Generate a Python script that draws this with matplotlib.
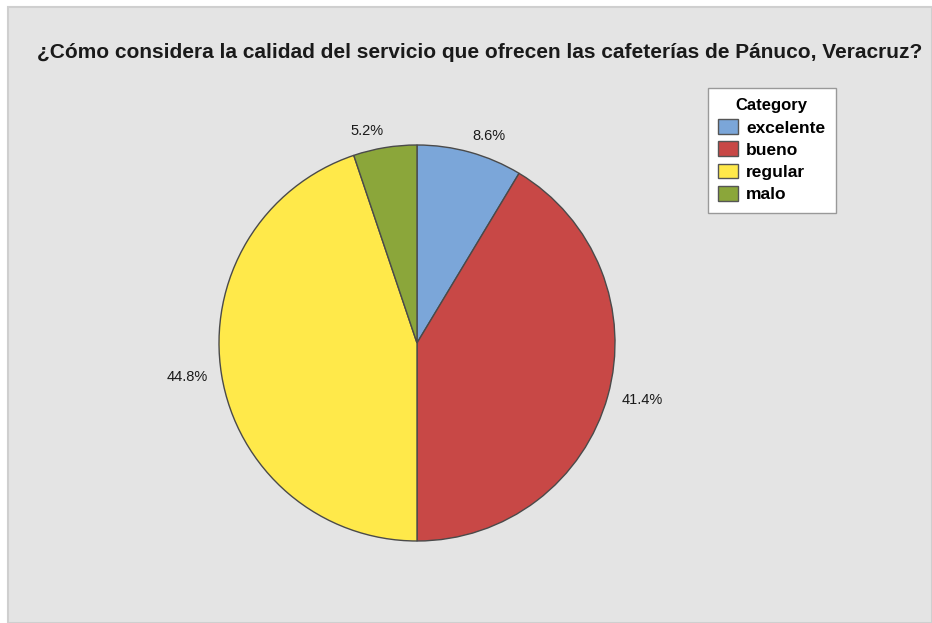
import numpy as np
import matplotlib.pyplot as plt
from matplotlib.patches import Rectangle, Patch

categories = ["excelente", "bueno", "regular", "malo"]
counts = [5, 24, 26, 3]
colors = ["#7ba6d9", "#c84846", "#ffe94a", "#8ba63a"]
title = "¿Cómo considera la calidad del servicio que ofrecen las cafeterías de Pánuco, Veracruz?"

plt.rcParams['font.family'] = ['Liberation Sans', 'DejaVu Sans']

W, H = 932, 623
fig = plt.figure(figsize=(W / 100, H / 100), dpi=100)
fig.patch.set_facecolor("white")

# grey panel
fig.patches.append(Rectangle((8 / W, 0), 1 - 8 / W, 1 - 7 / H, transform=fig.transFigure,
                             facecolor="#e4e4e4", edgecolor="#cfcfcf", linewidth=1.5, zorder=-5))

fig.text(480 / W, 1 - 52 / H, title, ha="center", va="center",
         fontsize=15, fontweight="bold", color="#1a1a1a")

cx, cy, r = 417, 623 - 343, 198
ax = fig.add_axes([(cx - r) / W, (cy - r) / H, 2 * r / W, 2 * r / H])
ax.set_facecolor("none")
wedges, _ = ax.pie(counts, colors=colors, startangle=90, counterclock=False,
                   wedgeprops=dict(edgecolor="#4a4a4a", linewidth=1.0))
ax.set_xlim(-1, 1)
ax.set_ylim(-1, 1)
ax.axis("off")

# percentage labels just outside each slice
total = sum(counts)
for w, n in zip(wedges, counts):
    ang = np.deg2rad((w.theta1 + w.theta2) / 2)
    c, s = np.cos(ang), np.sin(ang)
    ha = "left" if c >= 0 else "right"
    if s > 0.5:
        va = "bottom"
    elif s < -0.5:
        va = "top"
    else:
        va = "center"
    d = 1.05 if va != "center" else 1.07
    ax.text(d * c, d * s, f"{100 * n / total:.1f}%",
            ha=ha, va=va, fontsize=10.5, color="#1a1a1a")

handles = [Patch(facecolor=c, edgecolor="#555555", label=l) for c, l in zip(colors, categories)]
leg = fig.legend(handles=handles, title="Category", loc="upper left",
                 bbox_to_anchor=(708 / W, 1 - 88 / H), frameon=True, fancybox=False,
                 prop=dict(size=12.5, weight="bold"), handlelength=1.15, handleheight=0.95,
                 handletextpad=0.45, labelspacing=0.33, borderpad=0.6, borderaxespad=0,
                 framealpha=1, facecolor="white")
leg.get_title().set_fontweight("bold")
leg.get_title().set_fontsize(12)
leg.get_frame().set_edgecolor("#999999")
leg.get_frame().set_linewidth(1.0)

fig.savefig("out.png", dpi=100)
